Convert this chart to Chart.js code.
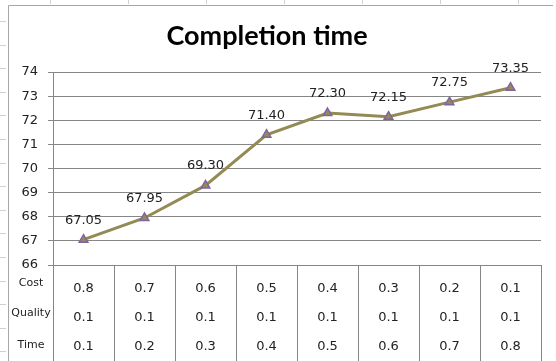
<!DOCTYPE html>
<html>
<head>
<meta charset="utf-8">
<script src="https://cdn.jsdelivr.net/npm/chart.js@4.4.1/dist/chart.umd.min.js"></script>
<style>
  html, body { margin: 0; padding: 0; background: #ffffff; }
  #wrap { width: 556px; height: 361px; position: relative; }
</style>
</head>
<body>
<div id="wrap"><canvas id="c" width="556" height="361"></canvas></div>
<script>
// Weighting scenarios (one column per scenario) and the resulting completion time
const costWeights    = [0.8, 0.7, 0.6, 0.5, 0.4, 0.3, 0.2, 0.1];
const qualityWeights = [0.1, 0.1, 0.1, 0.1, 0.1, 0.1, 0.1, 0.1];
const timeWeights    = [0.1, 0.2, 0.3, 0.4, 0.5, 0.6, 0.7, 0.8];
const completionTime = [67.05, 67.95, 69.30, 71.40, 72.30, 72.15, 72.75, 73.35];
const tableRowLabels = ['Cost', 'Quality', 'Time'];
const tableRows      = [costWeights, qualityWeights, timeWeights];
const yMin = 66, yMax = 74, yStep = 1;
const chartTitle = 'Completion time';

const categories = costWeights.map((c, i) => c + '/' + qualityWeights[i] + '/' + timeWeights[i]);

const GRID = '#868686';
const TEXT = '#222222';
const VALUE_FONT = '13px "DejaVu Sans", Verdana, sans-serif';

// Sheet edges, chart border and title
const framePlugin = {
  id: 'frame',
  beforeDraw(chart) {
    const ctx = chart.ctx;
    ctx.save();
    ctx.fillStyle = '#ffffff';
    ctx.fillRect(0, 0, chart.width, chart.height);
    ctx.strokeStyle = '#d0d0d0';
    ctx.lineWidth = 1;
    for (let y = 21; y < chart.height; y += 23.6) {
      const yy = Math.round(y) + 0.5;
      ctx.beginPath(); ctx.moveTo(0, yy); ctx.lineTo(6, yy); ctx.stroke();
    }
    for (let x = 50; x < chart.width; x += 78) {
      const xx = Math.round(x) + 0.5;
      ctx.beginPath(); ctx.moveTo(xx, 0); ctx.lineTo(xx, 4); ctx.stroke();
    }
    ctx.strokeStyle = '#a6a6a6';
    ctx.beginPath();
    ctx.moveTo(8.5, chart.height); ctx.lineTo(8.5, 5.5); ctx.lineTo(553, 5.5);
    ctx.stroke();

    ctx.fillStyle = '#000000';
    ctx.font = 'bold 27px Lato, "Liberation Sans", sans-serif';
    ctx.textAlign = 'center';
    ctx.textBaseline = 'alphabetic';
    ctx.fillText(chartTitle, 267, 45);
    ctx.restore();
  }
};

// Value labels above each marker
const valueLabelPlugin = {
  id: 'valueLabels',
  afterDatasetsDraw(chart) {
    const ctx = chart.ctx;
    const meta = chart.getDatasetMeta(0);
    ctx.save();
    ctx.fillStyle = TEXT;
    ctx.font = VALUE_FONT;
    ctx.textAlign = 'center';
    ctx.textBaseline = 'alphabetic';
    meta.data.forEach((pt, i) => {
      ctx.fillText(completionTime[i].toFixed(2), pt.x, pt.y - 16);
    });
    ctx.restore();
  }
};

// Data table under the plot, aligned with the category scale
const dataTablePlugin = {
  id: 'dataTable',
  afterDraw(chart) {
    const ctx = chart.ctx;
    const xs = chart.scales.x;
    const area = chart.chartArea;
    const n = categories.length;
    const colW = (area.right - area.left) / n;
    const top = area.bottom;
    const bottom = chart.height;
    ctx.save();
    ctx.strokeStyle = GRID;
    ctx.lineWidth = 1;
    for (let k = 0; k <= n; k++) {
      const x = Math.round(area.left + k * colW) + 0.5;
      ctx.beginPath(); ctx.moveTo(x, top); ctx.lineTo(x, bottom); ctx.stroke();
    }
    const rowY = [289, 318, 347];
    const labelY = [283, 313, 345];
    ctx.fillStyle = TEXT;
    ctx.textAlign = 'center';
    ctx.textBaseline = 'middle';
    ctx.font = '11px "DejaVu Sans", Verdana, sans-serif';
    tableRowLabels.forEach((lab, r) => ctx.fillText(lab, 31, labelY[r]));
    ctx.font = VALUE_FONT;
    tableRows.forEach((row, r) => {
      row.forEach((v, i) => {
        ctx.fillText(v.toFixed(1), xs.getPixelForValue(i), rowY[r]);
      });
    });
    ctx.restore();
  }
};

new Chart(document.getElementById('c'), {
  type: 'line',
  data: {
    labels: categories,
    datasets: [{
      data: completionTime,
      borderColor: '#948A54',
      borderWidth: 3,
      tension: 0,
      pointStyle: 'triangle',
      pointRadius: 5,
      pointHoverRadius: 5,
      pointBackgroundColor: '#948A54',
      pointBorderColor: '#8064A2',
      pointBorderWidth: 1.5
    }]
  },
  options: {
    responsive: false,
    animation: false,
    devicePixelRatio: 1,
    layout: { padding: { left: 0, right: 15, top: 72, bottom: 96 } },
    plugins: {
      legend: { display: false },
      title: { display: false },
      tooltip: { enabled: false }
    },
    scales: {
      x: {
        type: 'category',
        offset: true,
        display: false
      },
      y: {
        min: yMin,
        max: yMax,
        afterFit(scale) { scale.width = 53; },
        ticks: {
          stepSize: yStep,
          color: TEXT,
          padding: 10,
          font: { family: '"DejaVu Sans", Verdana, sans-serif', size: 13 }
        },
        grid: { color: GRID, lineWidth: 1, tickLength: 5, drawTicks: true },
        border: { display: true, color: GRID, width: 1 }
      }
    }
  },
  plugins: [framePlugin, valueLabelPlugin, dataTablePlugin]
});
</script>
</body>
</html>
